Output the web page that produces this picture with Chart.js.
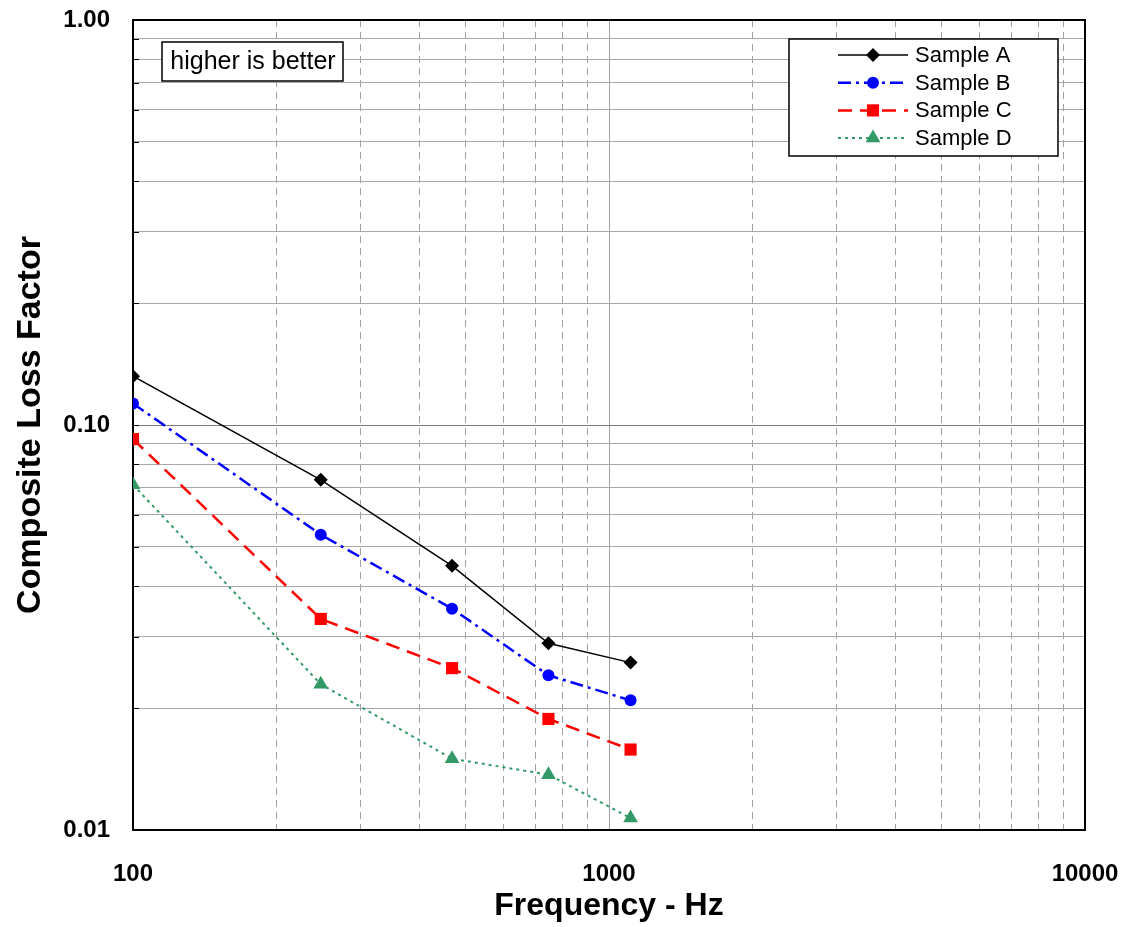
<!DOCTYPE html>
<html>
<head>
<meta charset="utf-8">
<title>Composite Loss Factor</title>
<script src="https://cdn.jsdelivr.net/npm/chart.js@4/dist/chart.umd.min.js"></script>
<style>
  html, body { margin: 0; padding: 0; background: #fff; }
  #wrap { width: 1135px; height: 927px; position: relative; }
</style>
</head>
<body>
<div id="wrap"><canvas id="chart"></canvas></div>
<script>
// Data
const freq = [100, 248, 468, 746, 1110];
const sampleA = [0.132, 0.0732, 0.0449, 0.0289, 0.0259];
const sampleB = [0.113, 0.0536, 0.0352, 0.0241, 0.0209];
const sampleC = [0.0923, 0.0332, 0.0251, 0.0188, 0.0158];
const sampleD = [0.0712, 0.0229, 0.0150, 0.0137, 0.0107];
const seriesNames = ['Sample A', 'Sample B', 'Sample C', 'Sample D'];

// Axis ticks (labelled decades)
const xMajorTicks = [100, 1000, 10000];
const yMajorTicks = [0.01, 0.1, 1];

const FONT = "'Liberation Sans', Arial, sans-serif";

function isMajor(v) {
  const l = Math.log10(v);
  return Math.abs(l - Math.round(l)) < 1e-9;
}

// 1..9 x each decade, up to the last major
function decadeTicks(majors) {
  const out = [];
  for (let i = 0; i < majors.length - 1; i++) {
    for (let m = 1; m < 10; m++) out.push(+(majors[i] * m).toPrecision(6));
  }
  out.push(majors[majors.length - 1]);
  return out;
}

function toPoints(ys) {
  return ys.map((y, i) => ({ x: freq[i], y: y }));
}

const datasets = [
  {
    label: seriesNames[0], data: toPoints(sampleA),
    borderColor: '#000000', backgroundColor: '#000000', borderWidth: 1.5,
    borderDash: [], pointStyle: 'rectRot', pointRadius: 7
  },
  {
    label: seriesNames[1], data: toPoints(sampleB),
    borderColor: '#0000ff', backgroundColor: '#0000ff', borderWidth: 2.5,
    borderDash: [13, 5, 3, 5], pointStyle: 'circle', pointRadius: 6
  },
  {
    label: seriesNames[2], data: toPoints(sampleC),
    borderColor: '#ff0000', backgroundColor: '#ff0000', borderWidth: 2.5,
    borderDash: [14, 8], pointStyle: 'rect', pointRadius: 8.6
  },
  {
    label: seriesNames[3], data: toPoints(sampleD),
    borderColor: '#339966', backgroundColor: '#339966', borderWidth: 2,
    borderDash: [3, 4], pointStyle: 'triangle', pointRadius: 8.5
  }
];
datasets.forEach((ds) => {
  ds.fill = false;
  ds.tension = 0;
  ds.pointBorderWidth = 0;
  ds.pointBackgroundColor = ds.borderColor;
  ds.pointBorderColor = ds.borderColor;
});

// Fallback marker drawing in case helpers are not exposed
function marker(ctx, style, r, x, y) {
  if (Chart.helpers && Chart.helpers.drawPoint) {
    Chart.helpers.drawPoint(ctx, { pointStyle: style, radius: r, rotation: 0, borderWidth: 0 }, x, y);
    return;
  }
  ctx.beginPath();
  if (style === 'circle') ctx.arc(x, y, r, 0, Math.PI * 2);
  else if (style === 'rect') { const s = r * Math.SQRT1_2; ctx.rect(x - s, y - s, 2 * s, 2 * s); }
  else if (style === 'rectRot') { ctx.moveTo(x - r, y); ctx.lineTo(x, y - r); ctx.lineTo(x + r, y); ctx.lineTo(x, y + r); ctx.closePath(); }
  else { ctx.moveTo(x, y - r); ctx.lineTo(x + r * 0.866, y + r / 2); ctx.lineTo(x - r * 0.866, y + r / 2); ctx.closePath(); }
  ctx.fill();
}

// Frame, inner y ticks, note box and legend
const decorations = {
  id: 'decorations',
  beforeDatasetsDraw(chart) {
    const { ctx, chartArea: a, scales } = chart;
    ctx.save();
    ctx.strokeStyle = '#000';
    ctx.lineWidth = 1;
    scales.y.ticks.forEach((t) => {
      const y = Math.round(scales.y.getPixelForValue(t.value)) + 0.5;
      ctx.beginPath();
      ctx.moveTo(a.left, y);
      ctx.lineTo(a.left + 6, y);
      ctx.stroke();
    });
    ctx.lineWidth = 2;
    ctx.strokeRect(a.left, a.top, a.right - a.left, a.bottom - a.top);
    ctx.restore();
  },
  afterDraw(chart) {
    const { ctx } = chart;
    ctx.save();

    // "higher is better" note
    ctx.fillStyle = '#fff';
    ctx.fillRect(162, 42, 181, 39);
    ctx.strokeStyle = '#000';
    ctx.lineWidth = 1.5;
    ctx.strokeRect(162, 42, 181, 39);
    ctx.fillStyle = '#000';
    ctx.font = '25px ' + FONT;
    ctx.textAlign = 'center';
    ctx.textBaseline = 'middle';
    ctx.fillText('higher is better', 253, 62);

    // legend
    const box = { left: 789, top: 39, w: 269, h: 117 };
    ctx.fillStyle = '#fff';
    ctx.fillRect(box.left, box.top, box.w, box.h);
    ctx.lineWidth = 1.5;
    ctx.strokeStyle = '#000';
    ctx.strokeRect(box.left, box.top, box.w, box.h);
    ctx.font = '22px ' + FONT;
    ctx.textAlign = 'left';
    chart.data.datasets.forEach((ds, i) => {
      const y = box.top + 16 + i * 27.7;
      ctx.strokeStyle = ds.borderColor;
      ctx.lineWidth = ds.borderWidth;
      ctx.setLineDash(ds.borderDash);
      ctx.beginPath();
      ctx.moveTo(838, y);
      ctx.lineTo(908, y);
      ctx.stroke();
      ctx.setLineDash([]);
      ctx.fillStyle = ds.borderColor;
      marker(ctx, ds.pointStyle, ds.pointRadius, 873, y);
      ctx.fillStyle = '#000';
      ctx.fillText(ds.label, 915, y + 1);
    });
    ctx.restore();
  }
};

new Chart(document.getElementById('chart'), {
  type: 'line',
  data: { datasets: datasets },
  options: {
    responsive: true,
    maintainAspectRatio: false,
    animation: false,
    layout: { padding: { left: 0, right: 50, top: 20, bottom: 0 } },
    plugins: {
      legend: { display: false },
      tooltip: { enabled: false }
    },
    scales: {
      x: {
        type: 'logarithmic',
        min: xMajorTicks[0],
        max: xMajorTicks[xMajorTicks.length - 1],
        afterBuildTicks: (s) => { s.ticks = decadeTicks(xMajorTicks).map((v) => ({ value: v })); },
        afterFit: (s) => { s.height = 97; s.paddingLeft = 0; s.paddingRight = 0; },
        border: {
          display: false,
          dash: (c) => (c.tick && !isMajor(c.tick.value) ? [7, 5] : [])
        },
        grid: { color: '#a0a0a0', lineWidth: 1, drawTicks: false },
        ticks: {
          autoSkip: false,
          maxRotation: 0,
          padding: 30,
          color: '#000',
          font: { family: FONT, size: 24, weight: 'bold' },
          callback: (v) => (isMajor(v) ? String(Math.round(v)) : '')
        },
        title: {
          display: true,
          text: 'Frequency - Hz',
          color: '#000',
          font: { family: FONT, size: 32, weight: 'bold' },
          padding: { top: 0, bottom: 2 }
        }
      },
      y: {
        type: 'logarithmic',
        min: yMajorTicks[0],
        max: yMajorTicks[yMajorTicks.length - 1],
        afterBuildTicks: (s) => { s.ticks = decadeTicks(yMajorTicks).map((v) => ({ value: v })); },
        afterFit: (s) => { s.width = 133; s.paddingTop = 0; s.paddingBottom = 0; },
        border: { display: false },
        grid: {
          color: (c) => (c.tick && isMajor(c.tick.value) ? '#7a7a7a' : '#a8a8a8'),
          lineWidth: 1,
          drawTicks: false
        },
        ticks: {
          autoSkip: false,
          padding: 23,
          color: '#000',
          font: { family: FONT, size: 24, weight: 'bold' },
          callback: (v) => (isMajor(v) ? Number(v).toFixed(2) : '')
        },
        title: {
          display: true,
          text: 'Composite Loss Factor',
          color: '#000',
          font: { family: FONT, size: 34, weight: 'bold' },
          padding: { top: 10, bottom: 0 }
        }
      }
    }
  },
  plugins: [decorations]
});
</script>
</body>
</html>
